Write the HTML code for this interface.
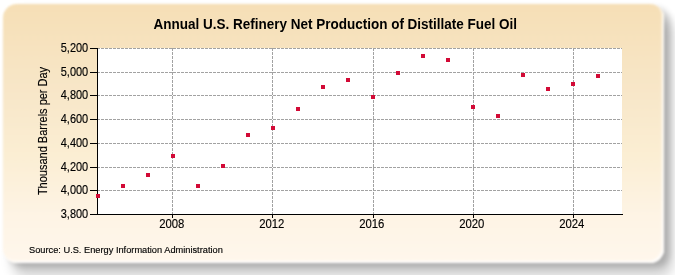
<!DOCTYPE html>
<html><head><meta charset="utf-8"><style>
html,body{margin:0;padding:0;background:#ffffff;width:675px;height:275px;overflow:hidden;}
#wrap{position:absolute;left:0;top:0;width:675px;height:275px;filter:blur(1px);}
#panel{position:absolute;left:3px;top:4px;width:661px;height:259px;border-radius:14px;
background:linear-gradient(to bottom,#f6dfb6 0%,#f8e7c9 35%,#fbeed3 58%,#fef4e5 82%,#fff7ec 100%);
box-shadow:inset -2px -2px 2px rgba(255,255,255,0.9),6px 4px 6px rgba(0,0,0,0.19),9px 14px 12px rgba(0,0,0,0.18);}
svg{position:absolute;left:0;top:0;will-change:transform;}
text{font-family:"Liberation Sans",sans-serif;fill:#000;}
.tk{font-size:12px;stroke:#000;stroke-width:0.15px;}
.ti{font-size:13.5px;font-weight:bold;}
.yl{font-size:11px;stroke:#000;stroke-width:0.12px;}
.src{font-size:9.25px;stroke:#000;stroke-width:0.15px;}
</style></head><body>
<div id="wrap"><div id="panel"></div></div>
<svg width="675" height="275" viewBox="0 0 675 275">
<rect x="97" y="48" width="525" height="166" fill="#ffffff"/>
<line x1="97" y1="48.5" x2="622" y2="48.5" stroke="#a2a2a2" stroke-width="1" stroke-dasharray="3,1"/>
<line x1="97" y1="72.5" x2="622" y2="72.5" stroke="#a2a2a2" stroke-width="1" stroke-dasharray="3,1"/>
<line x1="97" y1="95.5" x2="622" y2="95.5" stroke="#a2a2a2" stroke-width="1" stroke-dasharray="3,1"/>
<line x1="97" y1="119.5" x2="622" y2="119.5" stroke="#a2a2a2" stroke-width="1" stroke-dasharray="3,1"/>
<line x1="97" y1="143.5" x2="622" y2="143.5" stroke="#a2a2a2" stroke-width="1" stroke-dasharray="3,1"/>
<line x1="97" y1="167.5" x2="622" y2="167.5" stroke="#a2a2a2" stroke-width="1" stroke-dasharray="3,1"/>
<line x1="97" y1="190.5" x2="622" y2="190.5" stroke="#a2a2a2" stroke-width="1" stroke-dasharray="3,1"/>
<line x1="172.5" y1="48" x2="172.5" y2="214" stroke="#a2a2a2" stroke-width="1" stroke-dasharray="3,1"/>
<line x1="272.5" y1="48" x2="272.5" y2="214" stroke="#a2a2a2" stroke-width="1" stroke-dasharray="3,1"/>
<line x1="373.5" y1="48" x2="373.5" y2="214" stroke="#a2a2a2" stroke-width="1" stroke-dasharray="3,1"/>
<line x1="473.5" y1="48" x2="473.5" y2="214" stroke="#a2a2a2" stroke-width="1" stroke-dasharray="3,1"/>
<line x1="573.5" y1="48" x2="573.5" y2="214" stroke="#a2a2a2" stroke-width="1" stroke-dasharray="3,1"/>
<line x1="97.5" y1="48" x2="97.5" y2="215" stroke="#000" stroke-width="1"/>
<line x1="90" y1="214.5" x2="623" y2="214.5" stroke="#000" stroke-width="1"/>
<line x1="90" y1="48.5" x2="97" y2="48.5" stroke="#000" stroke-width="1"/>
<line x1="90" y1="72.5" x2="97" y2="72.5" stroke="#000" stroke-width="1"/>
<line x1="90" y1="95.5" x2="97" y2="95.5" stroke="#000" stroke-width="1"/>
<line x1="90" y1="119.5" x2="97" y2="119.5" stroke="#000" stroke-width="1"/>
<line x1="90" y1="143.5" x2="97" y2="143.5" stroke="#000" stroke-width="1"/>
<line x1="90" y1="167.5" x2="97" y2="167.5" stroke="#000" stroke-width="1"/>
<line x1="90" y1="190.5" x2="97" y2="190.5" stroke="#000" stroke-width="1"/>
<line x1="90" y1="214.5" x2="97" y2="214.5" stroke="#000" stroke-width="1"/>
<line x1="172.5" y1="214" x2="172.5" y2="218" stroke="#000" stroke-width="1"/>
<line x1="272.5" y1="214" x2="272.5" y2="218" stroke="#000" stroke-width="1"/>
<line x1="373.5" y1="214" x2="373.5" y2="218" stroke="#000" stroke-width="1"/>
<line x1="473.5" y1="214" x2="473.5" y2="218" stroke="#000" stroke-width="1"/>
<line x1="573.5" y1="214" x2="573.5" y2="218" stroke="#000" stroke-width="1"/>
<rect x="96" y="194" width="4" height="4" fill="#d20a36"/>
<rect x="121" y="184" width="4" height="4" fill="#d20a36"/>
<rect x="146" y="173" width="4" height="4" fill="#d20a36"/>
<rect x="171" y="154" width="4" height="4" fill="#d20a36"/>
<rect x="196" y="184" width="4" height="4" fill="#d20a36"/>
<rect x="221" y="164" width="4" height="4" fill="#d20a36"/>
<rect x="246" y="133" width="4" height="4" fill="#d20a36"/>
<rect x="271" y="126" width="4" height="4" fill="#d20a36"/>
<rect x="296" y="107" width="4" height="4" fill="#d20a36"/>
<rect x="321" y="85" width="4" height="4" fill="#d20a36"/>
<rect x="346" y="78" width="4" height="4" fill="#d20a36"/>
<rect x="371" y="95" width="4" height="4" fill="#d20a36"/>
<rect x="396" y="71" width="4" height="4" fill="#d20a36"/>
<rect x="421" y="54" width="4" height="4" fill="#d20a36"/>
<rect x="446" y="58" width="4" height="4" fill="#d20a36"/>
<rect x="471" y="105" width="4" height="4" fill="#d20a36"/>
<rect x="496" y="114" width="4" height="4" fill="#d20a36"/>
<rect x="521" y="73" width="4" height="4" fill="#d20a36"/>
<rect x="546" y="87" width="4" height="4" fill="#d20a36"/>
<rect x="571" y="82" width="4" height="4" fill="#d20a36"/>
<rect x="596" y="74" width="4" height="4" fill="#d20a36"/>
<text transform="translate(88.2,52.2) scale(0.915,1)" text-anchor="end" class="tk">5,200</text>
<text transform="translate(88.2,76.2) scale(0.915,1)" text-anchor="end" class="tk">5,000</text>
<text transform="translate(88.2,99.2) scale(0.915,1)" text-anchor="end" class="tk">4,800</text>
<text transform="translate(88.2,123.2) scale(0.915,1)" text-anchor="end" class="tk">4,600</text>
<text transform="translate(88.2,147.2) scale(0.915,1)" text-anchor="end" class="tk">4,400</text>
<text transform="translate(88.2,171.2) scale(0.915,1)" text-anchor="end" class="tk">4,200</text>
<text transform="translate(88.2,194.2) scale(0.915,1)" text-anchor="end" class="tk">4,000</text>
<text transform="translate(88.2,218.2) scale(0.915,1)" text-anchor="end" class="tk">3,800</text>
<text transform="translate(171.8,227.6) scale(0.945,1)" text-anchor="middle" class="tk">2008</text>
<text transform="translate(271.8,227.6) scale(0.945,1)" text-anchor="middle" class="tk">2012</text>
<text transform="translate(371.8,227.6) scale(0.945,1)" text-anchor="middle" class="tk">2016</text>
<text transform="translate(471.8,227.6) scale(0.945,1)" text-anchor="middle" class="tk">2020</text>
<text transform="translate(571.8,227.6) scale(0.945,1)" text-anchor="middle" class="tk">2024</text>
<text transform="translate(335.3,28.7) scale(1,1.07)" text-anchor="middle" class="ti">Annual U.S. Refinery Net Production of Distillate Fuel Oil</text>
<text transform="translate(47.1,131) rotate(-90) scale(1,1.1)" text-anchor="middle" class="yl">Thousand Barrels per Day</text>
<text x="29" y="253" class="src">Source: U.S. Energy Information Administration</text>
</svg>
</body></html>
